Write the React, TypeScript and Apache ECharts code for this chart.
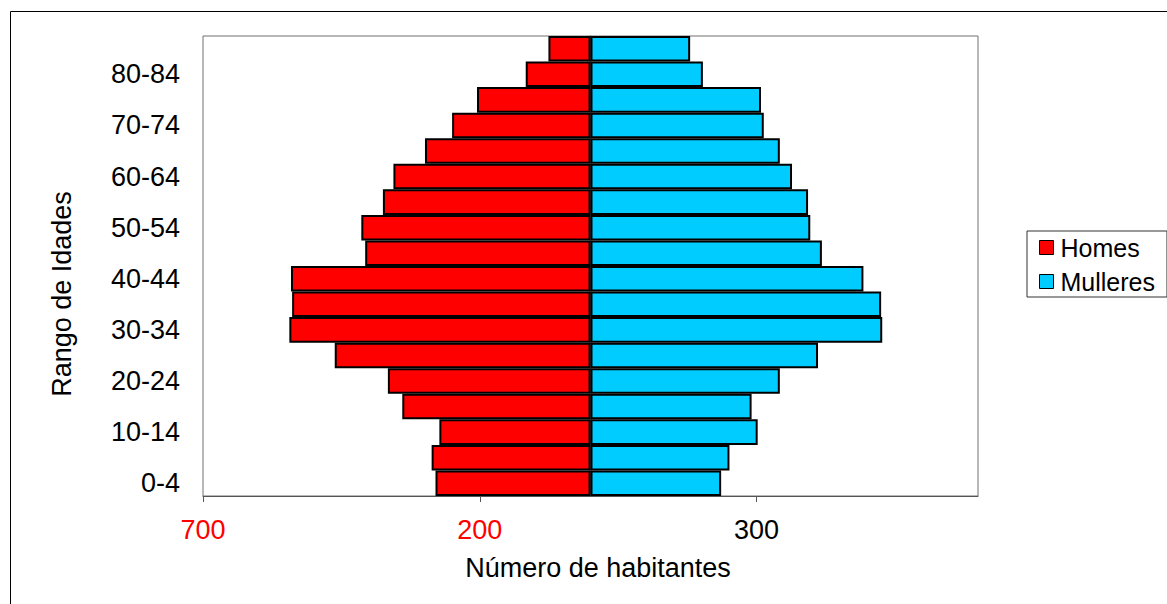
import React, { useEffect, useRef } from "react";
import * as echarts from "echarts";

const ageGroups = [
  "0-4", "5-9", "10-14", "15-19", "20-24", "25-29", "30-34", "35-39", "40-44",
  "45-49", "50-54", "55-59", "60-64", "65-69", "70-74", "75-79", "80-84", "85+",
];
const homes = [280, 287, 273, 340, 366, 462, 544, 539, 541, 407, 414, 375, 356, 299, 250, 205, 117, 76];
const mulleres = [236, 251, 302, 291, 342, 411, 527, 525, 493, 418, 397, 393, 364, 342, 313, 308, 203, 180];
const xTickValues = [-700, -200, 300];
const xMin = -700;
const xMax = 700;

const FONT = "'Liberation Sans', Arial, sans-serif";

export default function App() {
  const ref = useRef<HTMLDivElement>(null);
  useEffect(() => {
    if (!ref.current) return;
    const chart = echarts.init(ref.current, null, { renderer: "svg" });
    chart.setOption({
      animation: false,
      backgroundColor: "#ffffff",
      textStyle: { fontFamily: FONT },
      grid: { left: 203, right: 189, top: 36, bottom: 108, show: true, borderColor: "#707070", borderWidth: 1, containLabel: false },
      legend: {
        data: ["Homes", "Mulleres"],
        orient: "vertical",
        left: 1027,
        top: 231,
        padding: [4, 12, 3, 12],
        itemGap: 9,
        itemWidth: 14,
        itemHeight: 14,
        icon: "rect",
        borderColor: "#333",
        borderWidth: 1,
        itemStyle: { borderWidth: 1, borderColor: "#000" },
        textStyle: { fontSize: 25, fontFamily: FONT, color: "#000", padding: [0, 0, 0, 2] },
      },
      xAxis: {
        type: "value",
        min: xMin,
        max: xMax,
        splitLine: { show: false },
        axisLine: { show: true, lineStyle: { color: "#555", width: 1 } },
        axisTick: { show: true, length: 6, lineStyle: { color: "#555" }, customValues: xTickValues },
        axisLabel: {
          customValues: xTickValues,
          margin: 20,
          fontSize: 27,
          fontFamily: FONT,
          formatter: (v: number) => String(Math.abs(v)),
          color: (v: any) => (Number(v) < 0 ? "#ff0000" : "#000000"),
        },
      },
      yAxis: {
        type: "category",
        data: ageGroups,
        axisLine: { show: true, lineStyle: { color: "#555", width: 1 } },
        axisTick: { show: false },
        axisLabel: { interval: 1, margin: 23, fontSize: 27, fontFamily: FONT, color: "#000", padding: [4, 0, 0, 0] },
      },
      graphic: [
        {
          type: "rect",
          shape: { x: 10.5, y: 11.5, width: 1300, height: 800 },
          style: { fill: "none", stroke: "#000", lineWidth: 1 },
          silent: true,
        },
        {
          type: "text",
          x: 598,
          y: 568,
          style: { text: "Número de habitantes", fontSize: 27, fontFamily: FONT, fill: "#000", textAlign: "center", textVerticalAlign: "middle" },
          silent: true,
        },
        {
          type: "text",
          x: 62,
          y: 294,
          rotation: Math.PI / 2,
          style: { text: "Rango de Idades", fontSize: 27, fontFamily: FONT, fill: "#000", textAlign: "center", textVerticalAlign: "middle" },
          silent: true,
        },
      ],
      series: [
        {
          name: "Homes",
          type: "bar",
          data: homes.map((v) => -v),
          barGap: "-100%",
          barCategoryGap: "0%",
          itemStyle: { color: "#ff0000", borderColor: "#000", borderWidth: 2 },
        },
        {
          name: "Mulleres",
          type: "bar",
          data: mulleres,
          barGap: "-100%",
          barCategoryGap: "0%",
          itemStyle: { color: "#00ccff", borderColor: "#000", borderWidth: 2 },
        },
      ],
    });
    return () => chart.dispose();
  }, []);
  return <div ref={ref} style={{ position: "absolute", left: 0, top: 0, width: 1167, height: 604 }} />;
}
